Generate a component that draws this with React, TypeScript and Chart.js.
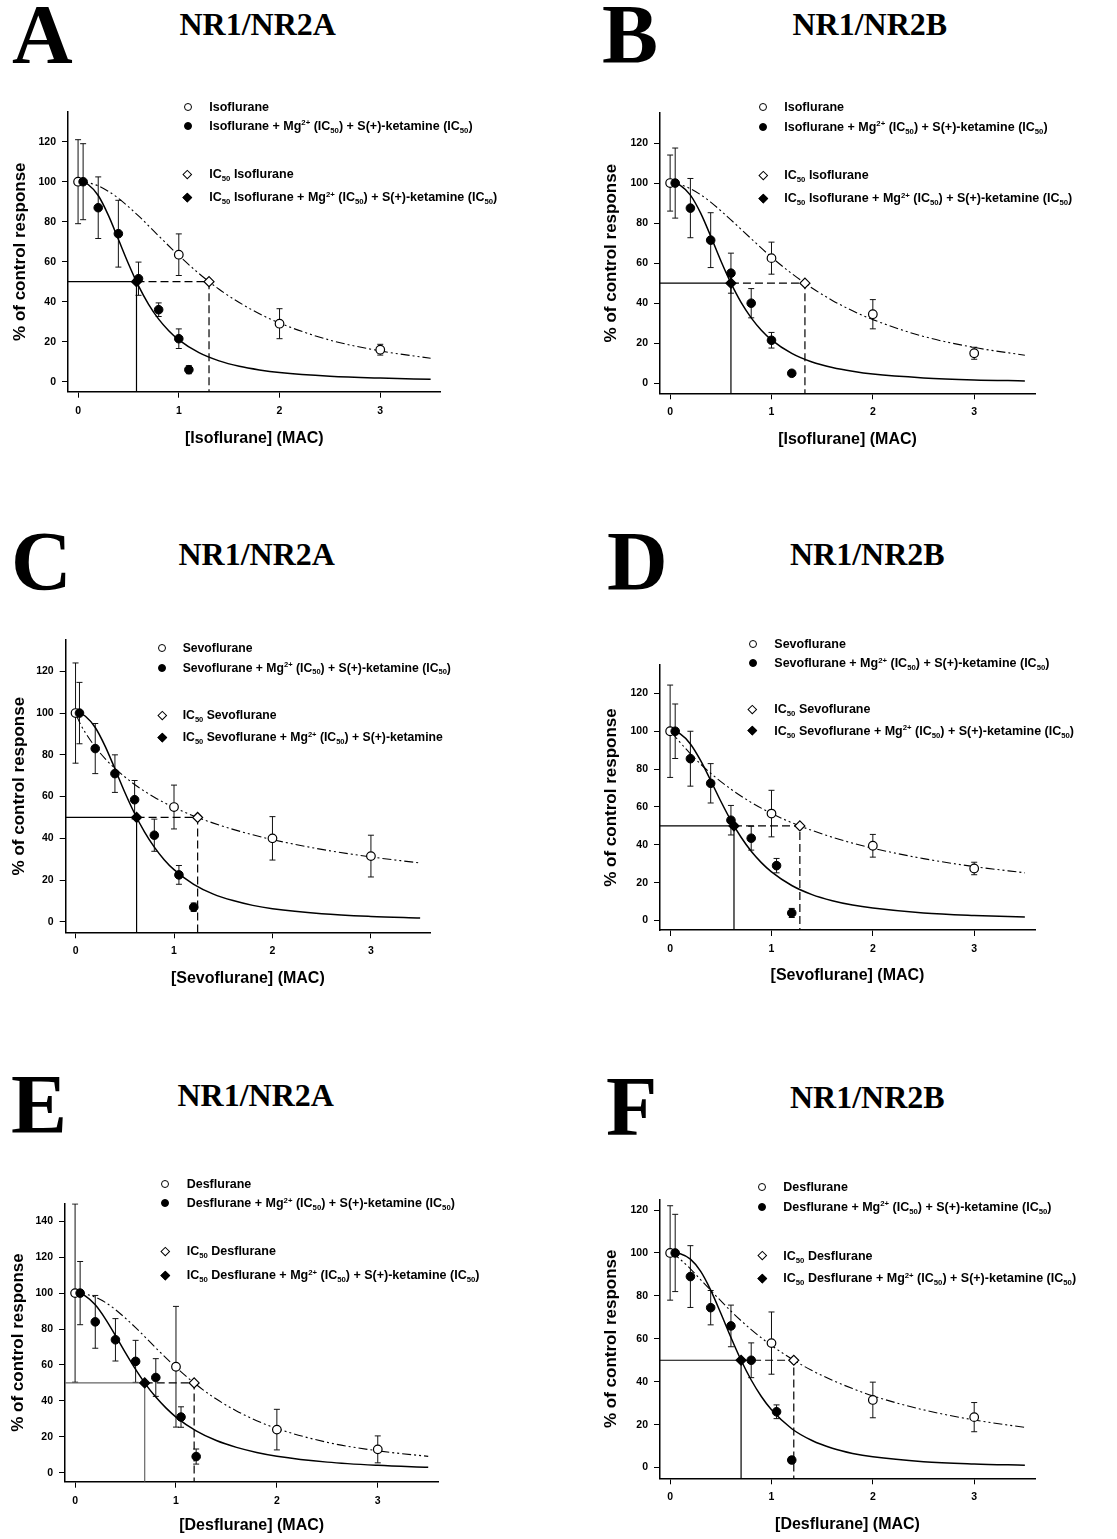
import React, { useEffect, useRef } from 'react';
import { Chart, registerables } from 'chart.js';

Chart.register(...registerables);

const FONT_SANS = '"Liberation Sans", Arial, Helvetica, sans-serif';
const FONT_SERIF = '"Liberation Serif", "Times New Roman", serif';

// ---------------- DATA ----------------
const panelLetters = ['A', 'B', 'C', 'D', 'E', 'F'];
const receptorTitles = ['NR1/NR2A', 'NR1/NR2B', 'NR1/NR2A', 'NR1/NR2B', 'NR1/NR2A', 'NR1/NR2B'];
const xAxisTitles = [
  '[Isoflurane] (MAC)', '[Isoflurane] (MAC)',
  '[Sevoflurane] (MAC)', '[Sevoflurane] (MAC)',
  '[Desflurane] (MAC)', '[Desflurane] (MAC)',
];
const yAxisTitle = '% of control response';

const xTickValues = [0, 1, 2, 3];
const yTicksTo120 = [0, 20, 40, 60, 80, 100, 120];
const yTicksTo140 = [0, 20, 40, 60, 80, 100, 120, 140];
const yTickSets = [yTicksTo120, yTicksTo120, yTicksTo120, yTicksTo120, yTicksTo140, yTicksTo120];
const xAxisMin = -0.1;
const xAxisMax = 3.6;
const yAxisMin = [-5, -5, -5, -5, -5, -5];
const yAxisMax = [135, 135, 135, 135, 150, 125];

const legendA = [
  'Isoflurane',
  'Isoflurane + Mg^{2+} (IC_{50}) + S(+)-ketamine (IC_{50})',
  'IC_{50} Isoflurane',
  'IC_{50} Isoflurane + Mg^{2+} (IC_{50}) + S(+)-ketamine (IC_{50})',
];
const legendC = [
  'Sevoflurane',
  'Sevoflurane + Mg^{2+} (IC_{50}) + S(+)-ketamine (IC_{50})',
  'IC_{50} Sevoflurane',
  'IC_{50} Sevoflurane + Mg^{2+} (IC_{50}) + S(+)-ketamine',
];
const legendD = [
  'Sevoflurane',
  'Sevoflurane + Mg^{2+} (IC_{50}) + S(+)-ketamine (IC_{50})',
  'IC_{50} Sevoflurane',
  'IC_{50} Sevoflurane + Mg^{2+} (IC_{50}) + S(+)-ketamine (IC_{50})',
];
const legendE = [
  'Desflurane',
  'Desflurane + Mg^{2+} (IC_{50}) + S(+)-ketamine (IC_{50})',
  'IC_{50} Desflurane',
  'IC_{50} Desflurane + Mg^{2+} (IC_{50}) + S(+)-ketamine (IC_{50})',
];
const legendSets = [legendA, legendA, legendC, legendD, legendE, legendE];
const legendMarkers = ['openCircle', 'filledCircle', 'openDiamond', 'filledDiamond'];

// anesthetic alone (open circles)
const aloneX = [0, 1, 2, 3];
const aloneY_A = [100, 63.5, 29, 16];
const aloneErr_A = [21, 10.4, 7.5, 2.7];
const aloneY_B = [100, 62.5, 34.5, 15];
const aloneErr_B = [14, 8, 7.3, 3];
const aloneY_C = [100, 55, 40, 31.5];
const aloneErr_C = [24, 10.5, 10.4, 10];
const aloneY_D = [100, 56.5, 39.5, 27.5];
const aloneErr_D = [24.4, 12.3, 6, 3.3];
const aloneY_E = [100, 59, 24, 13];
const aloneErr_E = [49.6, 33.6, 11.3, 7.5];
const aloneY_F = [100, 58, 31.5, 23.5];
const aloneErr_F = [22, 14.5, 8.3, 6.8];

// anesthetic + Mg2+ + S(+)-ketamine (filled circles)
const comboX_A = [0.05, 0.2, 0.4, 0.6, 0.8, 1.0, 1.1];
const comboY_A = [100, 87, 74, 51.5, 36, 21.5, 6];
const comboErr_A = [19, 15.4, 16.7, 8.3, 3.4, 4.9, 2];
const comboX_B = [0.05, 0.2, 0.4, 0.6, 0.8, 1.0, 1.2];
const comboY_B = [100, 87.5, 71.5, 55, 40, 21.5, 5];
const comboErr_B = [17.5, 14.8, 13.7, 10, 7.3, 3.9, 1];
const comboX_C = [0.04, 0.2, 0.4, 0.6, 0.8, 1.05, 1.2];
const comboY_C = [100, 83, 71, 58.5, 41.5, 22.5, 7];
const comboErr_C = [14.7, 12, 9, 9.2, 7.7, 4.5, 2];
const comboX_D = [0.05, 0.2, 0.4, 0.6, 0.8, 1.05, 1.2];
const comboY_D = [100, 85.5, 72.5, 53, 43.5, 29, 4];
const comboErr_D = [14.4, 14.5, 10.4, 7.8, 6.3, 3.8, 2.4];
const comboX_E = [0.05, 0.2, 0.4, 0.6, 0.8, 1.05, 1.2];
const comboY_E = [100, 84, 74, 62, 53, 31, 9];
const comboErr_E = [17.6, 14.7, 11.8, 11.7, 10.5, 5.7, 4.2];
const comboX_F = [0.05, 0.2, 0.4, 0.6, 0.8, 1.05, 1.2];
const comboY_F = [100, 89, 74.5, 66, 50, 26, 3.5];
const comboErr_F = [18, 14.4, 8, 9.7, 8.1, 3.2, 1.5];

// IC50 values (diamonds)
const ic50Alone = [1.3, 1.33, 1.24, 1.28, 1.18, 1.22];
const ic50Combo = [0.58, 0.6, 0.62, 0.63, 0.69, 0.7];
const ic50Level = 50;

// fitted curves
const comboCurveX = [0.05, 0.1, 0.2, 0.3, 0.4, 0.5, 0.6, 0.7, 0.8, 0.9, 1.0, 1.2, 1.4, 1.6, 1.8, 2.0, 2.5, 3.0, 3.5];
const comboCurve_A = [99.7, 98.6, 93.1, 83.3, 71.2, 59.0, 47.9, 38.7, 31.3, 25.5, 20.9, 14.5, 10.4, 7.7, 5.9, 4.6, 2.75, 1.8, 1.2];
const comboCurve_B = [99.8, 98.9, 94.0, 85.1, 73.5, 61.2, 50.0, 40.4, 32.7, 26.5, 21.7, 14.9, 10.6, 7.9, 6.0, 4.6, 2.7, 1.7, 1.2];
const comboCurve_C = [99.7, 98.5, 93.1, 84.2, 73.3, 62.1, 51.9, 43.1, 35.8, 29.8, 25.0, 18.0, 13.3, 10.2, 7.9, 6.3, 3.9, 2.6, 1.8];
const comboCurve_D = [99.7, 98.6, 93.3, 84.6, 74.0, 63.0, 52.8, 44.0, 36.6, 30.6, 25.7, 18.5, 13.7, 10.5, 8.2, 6.6, 4.0, 2.7, 1.9];
const comboCurve_E = [99.6, 98.5, 93.5, 85.7, 76.4, 66.7, 57.5, 49.2, 42.1, 36.1, 31.0, 23.3, 17.9, 14.1, 11.3, 9.2, 5.9, 4.1, 3.0];
const comboCurve_F = [99.9, 99.6, 97.1, 91.5, 82.7, 71.9, 60.6, 50.0, 40.8, 33.1, 26.9, 18.1, 12.6, 9.0, 6.6, 5.0, 2.75, 1.7, 1.1];

const aloneCurveX = [0.01, 0.05, 0.1, 0.2, 0.3, 0.4, 0.6, 0.8, 1.0, 1.2, 1.4, 1.6, 1.8, 2.0, 2.5, 3.0, 3.5];
const aloneCurve_A = [100, 99.9, 99.5, 97.9, 95.2, 91.7, 82.9, 72.9, 63.1, 54.1, 46.2, 39.6, 34.0, 29.3, 20.8, 15.4, 11.7];
const aloneCurve_B = [100, 99.8, 99.2, 97.2, 94.2, 90.5, 81.6, 72.2, 63.0, 54.8, 47.6, 41.4, 36.2, 31.8, 23.4, 17.9, 14.0];
const aloneCurve_C = [98.7, 94.7, 90.6, 83.8, 78.2, 73.5, 65.8, 59.7, 54.8, 50.7, 47.3, 44.3, 41.7, 39.4, 34.7, 31.1, 28.2];
const aloneCurve_D = [99.5, 97.1, 94.0, 88.1, 82.7, 77.8, 69.4, 62.4, 56.6, 51.7, 47.6, 44.0, 40.9, 38.2, 32.7, 28.5, 25.2];
const aloneCurve_E = [100, 99.9, 99.5, 97.7, 94.8, 90.8, 80.8, 69.5, 58.7, 49.1, 41.0, 34.4, 29.0, 24.6, 16.9, 12.2, 9.1];
const aloneCurve_F = [99.9, 98.9, 97.0, 92.6, 87.6, 82.6, 72.9, 64.3, 56.9, 50.6, 45.2, 40.7, 36.8, 33.4, 26.9, 22.2, 18.7];

const aloneYs = [aloneY_A, aloneY_B, aloneY_C, aloneY_D, aloneY_E, aloneY_F];
const aloneErrs = [aloneErr_A, aloneErr_B, aloneErr_C, aloneErr_D, aloneErr_E, aloneErr_F];
const comboXs = [comboX_A, comboX_B, comboX_C, comboX_D, comboX_E, comboX_F];
const comboYs = [comboY_A, comboY_B, comboY_C, comboY_D, comboY_E, comboY_F];
const comboErrs = [comboErr_A, comboErr_B, comboErr_C, comboErr_D, comboErr_E, comboErr_F];
const comboCurves = [comboCurve_A, comboCurve_B, comboCurve_C, comboCurve_D, comboCurve_E, comboCurve_F];
const aloneCurves = [aloneCurve_A, aloneCurve_B, aloneCurve_C, aloneCurve_D, aloneCurve_E, aloneCurve_F];

// ---------------- LAYOUT (positions / styles) ----------------
const plotBoxes = [
  { l: 68, t: 111.7, r: 440.7, b: 391.7, yTitleX: 20, xTitleY: 438.3 },
  { l: 660, t: 113, r: 1035, b: 393.3, yTitleX: 611.7, xTitleY: 440 },
  { l: 65.7, t: 640, r: 430, b: 932.3, yTitleX: 19.3, xTitleY: 978.3 },
  { l: 660, t: 665, r: 1035, b: 930, yTitleX: 611.7, xTitleY: 976 },
  { l: 65, t: 1203.3, r: 438.3, b: 1481.7, yTitleX: 18.3, xTitleY: 1525.7 },
  { l: 660, t: 1199.3, r: 1035, b: 1478.3, yTitleX: 611, xTitleY: 1525 },
];
const letterPos = [
  { x: 12, y: -7.5 }, { x: 602, y: -7.5 },
  { x: 11, y: 520.3 }, { x: 607, y: 520.3 },
  { x: 11, y: 1063.3 }, { x: 606, y: 1065 },
];
const titlePos = [
  { x: 179.5, y: 7.7 }, { x: 792.5, y: 7.7 },
  { x: 178.5, y: 537.7 }, { x: 790, y: 537.7 },
  { x: 177.5, y: 1079.4 }, { x: 790, y: 1081 },
];
const legendMarkerX = [187.7, 763.3, 162.3, 752.7, 165, 762.3];
const legendTextX = [209.3, 784.3, 182.7, 774.3, 186.7, 783.3];
const legendRowY = [
  [106.7, 125.7, 174.3, 197.3],
  [106.7, 126.7, 175, 198.3],
  [648.3, 667.7, 715, 737.3],
  [644.3, 663.3, 709.3, 730.7],
  [1184, 1203.3, 1251, 1275],
  [1187.3, 1206.7, 1255.7, 1278.3],
];
const legendFontSize = [12.5, 12.5, 12.2, 12.5, 12.5, 12.5];
const refSolidColor = ['#000', '#000', '#000', '#000', '#666', '#000'];

const Y_TITLE_SIZE = 17;
const X_TITLE_SIZE = 16;
const TICK_SIZE = 10.5;

const errorBarPlugin = {
  id: 'errorBars',
  beforeDatasetsDraw(chart: any) {
    const ctx = chart.ctx;
    const xs = chart.scales.x;
    const ys = chart.scales.y;
    const area = chart.chartArea;
    ctx.save();
    ctx.beginPath();
    ctx.rect(area.left, area.top, area.right - area.left, area.bottom - area.top);
    ctx.clip();
    chart.data.datasets.forEach((ds: any) => {
      if (!ds.errors) return;
      ctx.strokeStyle = '#111';
      ctx.lineWidth = 1;
      ds.data.forEach((p: any, i: number) => {
        const e = ds.errors[i];
        if (!e) return;
        const px = xs.getPixelForValue(p.x);
        const top = ys.getPixelForValue(p.y + e);
        const bot = ys.getPixelForValue(p.y - e);
        ctx.beginPath();
        ctx.moveTo(px, top);
        ctx.lineTo(px, bot);
        ctx.moveTo(px - 3, top);
        ctx.lineTo(px + 3, top);
        ctx.moveTo(px - 3, bot);
        ctx.lineTo(px + 3, bot);
        ctx.stroke();
      });
    });
    ctx.restore();
  },
};

function zip(xs: number[], ys: number[]) {
  return xs.map((x, i) => ({ x, y: ys[i] }));
}

function PanelChart({ idx }: { idx: number }) {
  const ref = useRef<HTMLCanvasElement | null>(null);
  const box = plotBoxes[idx];
  const cl = Math.floor(box.yTitleX - Y_TITLE_SIZE * 0.6);
  const yTitlePad = box.yTitleX - Y_TITLE_SIZE * 0.6 - cl;
  const ct = Math.floor(box.t - 20);
  const padTop = box.t - ct;
  const cw = Math.ceil(box.r + 12 - cl);
  const padRight = cl + cw - box.r;
  const ch = Math.ceil(box.xTitleY + X_TITLE_SIZE * 0.6 - ct);
  const xTitlePad = ct + ch - (box.xTitleY + X_TITLE_SIZE * 0.6);
  const xAxisH = ct + ch - box.b;
  const yAxisW = box.l - cl;

  useEffect(() => {
    if (!ref.current) return;
    const yMin = yAxisMin[idx];
    const tickFont = { family: FONT_SANS, size: TICK_SIZE, weight: 'bold' as const };
    const solidRef = [
      { x: xAxisMin, y: ic50Level },
      { x: ic50Combo[idx], y: ic50Level },
      { x: ic50Combo[idx], y: yMin },
    ];
    const dashedRef = [
      { x: ic50Combo[idx], y: ic50Level },
      { x: ic50Alone[idx], y: ic50Level },
      { x: ic50Alone[idx], y: yMin },
    ];
    const chart = new Chart(ref.current, {
      type: 'scatter',
      data: {
        datasets: [
          {
            label: 'IC50 combination',
            data: [{ x: ic50Combo[idx], y: ic50Level }],
            pointStyle: 'rectRot',
            pointRadius: 5,
            pointBackgroundColor: '#000',
            pointBorderColor: '#000',
            pointBorderWidth: 1.2,
          },
          {
            label: 'IC50 alone',
            data: [{ x: ic50Alone[idx], y: ic50Level }],
            pointStyle: 'rectRot',
            pointRadius: 5,
            pointBackgroundColor: '#fff',
            pointBorderColor: '#000',
            pointBorderWidth: 1.2,
          },
          {
            label: 'combination',
            data: zip(comboXs[idx], comboYs[idx]),
            errors: comboErrs[idx],
            pointStyle: 'circle',
            pointRadius: 4.3,
            pointBackgroundColor: '#000',
            pointBorderColor: '#000',
            pointBorderWidth: 1,
          } as any,
          {
            label: 'alone',
            data: zip(aloneX, aloneYs[idx]),
            errors: aloneErrs[idx],
            pointStyle: 'circle',
            pointRadius: 4.3,
            pointBackgroundColor: '#fff',
            pointBorderColor: '#000',
            pointBorderWidth: 1.2,
          } as any,
          {
            label: 'combination fit',
            data: zip(comboCurveX, comboCurves[idx]),
            showLine: true,
            pointRadius: 0,
            borderColor: '#000',
            borderWidth: 1.5,
            cubicInterpolationMode: 'monotone',
          },
          {
            label: 'alone fit',
            data: zip(aloneCurveX, aloneCurves[idx]),
            showLine: true,
            pointRadius: 0,
            borderColor: '#000',
            borderWidth: 1.1,
            borderDash: [9, 3, 2, 3, 2, 3],
            cubicInterpolationMode: 'monotone',
          },
          {
            label: 'IC50 combination drop',
            data: solidRef,
            showLine: true,
            pointRadius: 0,
            borderColor: refSolidColor[idx],
            borderWidth: 1.2,
            tension: 0,
          },
          {
            label: 'IC50 alone drop',
            data: dashedRef,
            showLine: true,
            pointRadius: 0,
            borderColor: '#000',
            borderWidth: 1.2,
            borderDash: [8, 4],
            tension: 0,
          },
        ],
      },
      options: {
        responsive: false,
        maintainAspectRatio: false,
        animation: false,
        events: [],
        layout: { padding: { top: padTop, right: padRight, left: 0, bottom: 0 } },
        plugins: {
          legend: { display: false },
          tooltip: { enabled: false },
          title: { display: false },
        },
        scales: {
          x: {
            type: 'linear',
            min: xAxisMin,
            max: xAxisMax,
            afterBuildTicks: (s: any) => {
              s.ticks = xTickValues.map((v) => ({ value: v }));
            },
            afterFit: (s: any) => {
              s.height = xAxisH;
            },
            ticks: { color: '#000', font: tickFont, padding: 7, maxRotation: 0, autoSkip: false },
            grid: { drawOnChartArea: false, drawTicks: true, tickLength: 6, color: '#000', lineWidth: 1 },
            border: { display: true, color: '#000', width: 1.5 },
            title: {
              display: true,
              text: xAxisTitles[idx],
              color: '#000',
              font: { family: FONT_SANS, size: X_TITLE_SIZE, weight: 'bold' },
              padding: { top: 0, bottom: xTitlePad },
            },
          },
          y: {
            type: 'linear',
            min: yMin,
            max: yAxisMax[idx],
            afterBuildTicks: (s: any) => {
              s.ticks = yTickSets[idx].map((v) => ({ value: v }));
            },
            afterFit: (s: any) => {
              s.width = yAxisW;
            },
            ticks: { color: '#000', font: tickFont, padding: 6, autoSkip: false },
            grid: { drawOnChartArea: false, drawTicks: true, tickLength: 6, color: '#000', lineWidth: 1 },
            border: { display: true, color: '#000', width: 1.5 },
            title: {
              display: true,
              text: yAxisTitle,
              color: '#000',
              font: { family: FONT_SANS, size: Y_TITLE_SIZE, weight: 'bold' },
              padding: { top: yTitlePad, bottom: 0 },
            },
          },
        },
      } as any,
      plugins: [errorBarPlugin],
    });
    return () => chart.destroy();
  }, [idx]);

  return (
    <canvas
      ref={ref}
      width={cw}
      height={ch}
      style={{ position: 'absolute', left: cl, top: ct, width: cw, height: ch }}
    />
  );
}

function RichText({ text }: { text: string }) {
  const parts = text.split(/(\^\{[^}]*\}|_\{[^}]*\})/).filter((p) => p.length > 0);
  return (
    <>
      {parts.map((p, i) => {
        if (p.startsWith('^{')) {
          return (
            <span key={i} style={{ fontSize: '0.62em', position: 'relative', top: '-0.6em' }}>
              {p.slice(2, -1)}
            </span>
          );
        }
        if (p.startsWith('_{')) {
          return (
            <span key={i} style={{ fontSize: '0.62em', position: 'relative', top: '0.35em' }}>
              {p.slice(2, -1)}
            </span>
          );
        }
        return <span key={i}>{p}</span>;
      })}
    </>
  );
}

function LegendMarker({ kind, x, y }: { kind: string; x: number; y: number }) {
  const round = kind.indexOf('Circle') >= 0;
  const filled = kind.indexOf('filled') === 0;
  const size = round ? 8 : 6.6;
  return (
    <div
      style={{
        position: 'absolute',
        left: x - size / 2,
        top: y - size / 2,
        width: size,
        height: size,
        boxSizing: 'border-box',
        border: '1.3px solid #000',
        background: filled ? '#000' : '#fff',
        borderRadius: round ? '50%' : 0,
        transform: round ? undefined : 'rotate(45deg)',
      }}
    />
  );
}

function PanelOverlay({ idx }: { idx: number }) {
  const fs = legendFontSize[idx];
  const capCenter = 16 / 2 - (1.117 * fs) / 2 + 0.905 * fs - 0.358 * fs;
  return (
    <>
      <div
        style={{
          position: 'absolute',
          left: letterPos[idx].x,
          top: letterPos[idx].y,
          fontFamily: FONT_SERIF,
          fontWeight: 'bold',
          fontSize: 84,
          lineHeight: '84px',
          color: '#000',
          whiteSpace: 'nowrap',
        }}
      >
        {panelLetters[idx]}
      </div>
      <div
        style={{
          position: 'absolute',
          left: titlePos[idx].x,
          top: titlePos[idx].y,
          fontFamily: FONT_SERIF,
          fontWeight: 'bold',
          fontSize: 32,
          lineHeight: '32px',
          color: '#000',
          whiteSpace: 'nowrap',
        }}
      >
        {receptorTitles[idx]}
      </div>
      {legendSets[idx].map((label, r) => (
        <React.Fragment key={r}>
          <LegendMarker kind={legendMarkers[r]} x={legendMarkerX[idx]} y={legendRowY[idx][r]} />
          <div
            style={{
              position: 'absolute',
              left: legendTextX[idx],
              top: legendRowY[idx][r] - capCenter,
              fontFamily: FONT_SANS,
              fontWeight: 'bold',
              fontSize: fs,
              lineHeight: '16px',
              color: '#000',
              whiteSpace: 'nowrap',
            }}
          >
            <RichText text={label} />
          </div>
        </React.Fragment>
      ))}
    </>
  );
}

export default function App() {
  const ids = [0, 1, 2, 3, 4, 5];
  return (
    <div
      style={{
        position: 'absolute',
        left: 0,
        top: 0,
        width: 1117,
        height: 1539,
        background: '#fff',
        overflow: 'hidden',
      }}
    >
      {ids.map((i) => (
        <PanelChart key={'c' + i} idx={i} />
      ))}
      {ids.map((i) => (
        <PanelOverlay key={'o' + i} idx={i} />
      ))}
    </div>
  );
}
